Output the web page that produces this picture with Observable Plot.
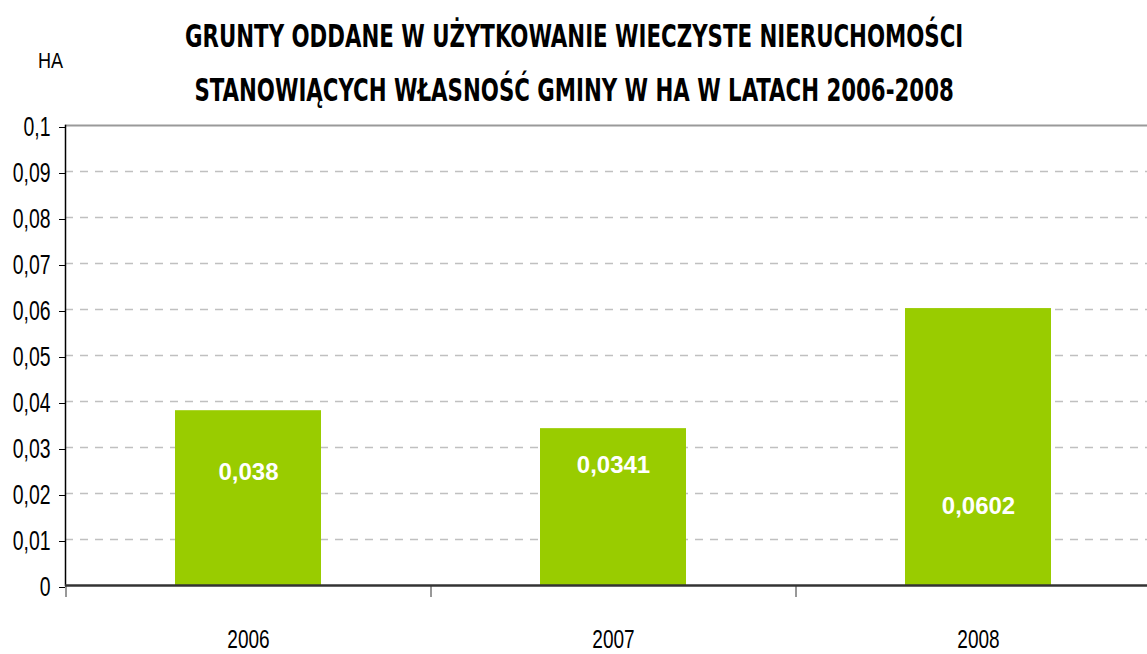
<!DOCTYPE html>
<html><head><meta charset="utf-8">
<script src="https://cdn.jsdelivr.net/npm/d3@7"></script>
<script src="https://cdn.jsdelivr.net/npm/@observablehq/plot@0.6"></script>
<style>
body{margin:0;background:#fff;}
#wrap{position:relative;width:1147px;height:654px;overflow:hidden;font-family:"DejaVu Sans Condensed","DejaVu Sans",sans-serif;font-stretch:condensed;color:#000;}
#title{position:absolute;left:0;top:9px;width:1147px;text-align:center;font-weight:bold;font-size:32px;line-height:54px;z-index:2;}
#title span{display:block;transform:scaleX(0.74);transform-origin:576px 50%;white-space:nowrap;}
#unit{position:absolute;left:38px;top:50px;font-family:"Liberation Sans",Arial,sans-serif;font-stretch:normal;font-size:22px;line-height:22px;z-index:2;transform:scaleX(0.82);transform-origin:left center;}
#chart{position:absolute;left:0;top:0;}
</style></head>
<body>
<div id="wrap">
<div id="title"><span>GRUNTY ODDANE W UŻYTKOWANIE WIECZYSTE NIERUCHOMOŚCI</span><span>STANOWIĄCYCH WŁASNOŚĆ GMINY W HA W LATACH 2006-2008</span></div>
<div id="unit">HA</div>
<div id="chart"></div>
</div>
<script>
const years = ["2006", "2007", "2008"];
const values = [0.038, 0.0341, 0.0602];
const valueLabels = ["0,038", "0,0341", "0,0602"];
const labelAt = [0.0246, 0.0261, 0.0172];
const yTicks = [0, 0.01, 0.02, 0.03, 0.04, 0.05, 0.06, 0.07, 0.08, 0.09, 0.1];

const data = years.map((y, i) => ({year: y, value: values[i], label: valueLabels[i], at: labelAt[i]}));
const fmt = d => String(d).replace(".", ",");
const step = 365;

const chart = Plot.plot({
  width: 1147,
  height: 654,
  marginTop: 125,
  marginBottom: 69,
  marginLeft: 65,
  marginRight: 0,
  style: {fontFamily: '"Liberation Sans",Arial,sans-serif', fontSize: "20px", color: "#000", background: "transparent"},
  x: {type: "band", domain: years, range: [65, 1160], paddingInner: 0.6, paddingOuter: 0.3, label: null},
  y: {domain: [0, 0.1], range: [585, 125], label: null},
  marks: [
    Plot.ruleY(yTicks.filter(d => d > 0 && d < 0.1), {stroke: "#c0c0c0", strokeWidth: 1.3, strokeDasharray: "8,7"}),
    Plot.ruleY([0.1], {stroke: "#9a9a9a", strokeWidth: 2}),
    Plot.barY(data, {x: "year", y: "value", fill: "#99CC00"}),
    Plot.text(data, {x: "year", y: "at", text: "label", fill: "white", fontWeight: "bold", fontSize: 24, ariaLabel: "value label"}),
    Plot.axisY({ticks: yTicks, tickFormat: fmt, tickSize: 6, tickPadding: 9, fontSize: 27, dy: 2, stroke: "#000", label: null}),
    Plot.axisX({tickSize: 12, tickFormat: () => "", dx: -step / 2, stroke: "#333", label: null}),
    Plot.axisX({tickSize: 0, tickPadding: 45, fontSize: 25, label: null}),
    Plot.frame({anchor: "left", stroke: "#000", strokeWidth: 1.5}),
    Plot.ruleY([0], {stroke: "#333", strokeWidth: 2.5})
  ]
});
document.getElementById("chart").appendChild(chart);

function squeeze(sel, k) {
  d3.select(chart).selectAll(sel).each(function () {
    const len = this.getComputedTextLength();
    if (len > 0) {
      this.setAttribute("textLength", (len * k).toFixed(1));
      this.setAttribute("lengthAdjust", "spacingAndGlyphs");
    }
  });
}
squeeze('g[aria-label="y-axis tick label"] text', 0.72);
squeeze('g[aria-label="x-axis tick label"] text', 0.76);
squeeze('g[aria-label="value label"] text', 0.80);
</script>
</body></html>
